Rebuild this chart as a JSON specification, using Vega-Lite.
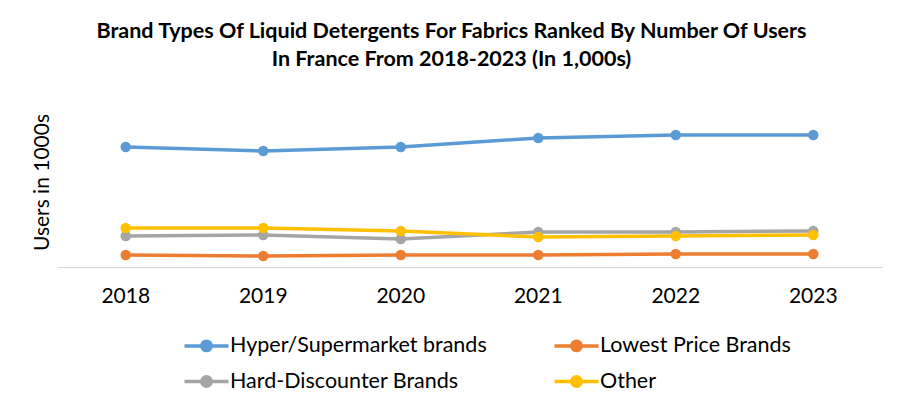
{
  "$schema": "https://vega.github.io/schema/vega-lite/v6.json",
  "width": 825,
  "height": 170,
  "autosize": "none",
  "padding": {"left": 57, "top": 97, "right": 21, "bottom": 146},
  "background": "white",
  "title": {
    "text": ["Brand Types Of Liquid Detergents For Fabrics Ranked By Number Of Users", "In France From 2018-2023 (In 1,000s)"],
    "font": "Lato",
    "fontSize": 21.5,
    "fontWeight": "bold",
    "color": "#000000",
    "lineHeight": 28,
    "anchor": "middle",
    "dx": -18,
    "offset": 27
  },
  "data": {
    "values": [
      {"year": "2018", "series": "Hyper/Supermarket brands", "users": 12000},
      {"year": "2019", "series": "Hyper/Supermarket brands", "users": 11600},
      {"year": "2020", "series": "Hyper/Supermarket brands", "users": 12000},
      {"year": "2021", "series": "Hyper/Supermarket brands", "users": 12900},
      {"year": "2022", "series": "Hyper/Supermarket brands", "users": 13200},
      {"year": "2023", "series": "Hyper/Supermarket brands", "users": 13200},
      {"year": "2018", "series": "Lowest Price Brands", "users": 1200},
      {"year": "2019", "series": "Lowest Price Brands", "users": 1100},
      {"year": "2020", "series": "Lowest Price Brands", "users": 1200},
      {"year": "2021", "series": "Lowest Price Brands", "users": 1200},
      {"year": "2022", "series": "Lowest Price Brands", "users": 1300},
      {"year": "2023", "series": "Lowest Price Brands", "users": 1300},
      {"year": "2018", "series": "Hard-Discounter Brands", "users": 3100},
      {"year": "2019", "series": "Hard-Discounter Brands", "users": 3200},
      {"year": "2020", "series": "Hard-Discounter Brands", "users": 2800},
      {"year": "2021", "series": "Hard-Discounter Brands", "users": 3500},
      {"year": "2022", "series": "Hard-Discounter Brands", "users": 3500},
      {"year": "2023", "series": "Hard-Discounter Brands", "users": 3600},
      {"year": "2018", "series": "Other", "users": 3900},
      {"year": "2019", "series": "Other", "users": 3900},
      {"year": "2020", "series": "Other", "users": 3600},
      {"year": "2021", "series": "Other", "users": 3000},
      {"year": "2022", "series": "Other", "users": 3100},
      {"year": "2023", "series": "Other", "users": 3200}
    ]
  },
  "mark": {"type": "line", "strokeWidth": 3.5, "point": {"filled": true, "size": 110}},
  "encoding": {
    "x": {
      "field": "year",
      "type": "ordinal",
      "scale": {"type": "band", "paddingInner": 0, "paddingOuter": 0},
      "axis": {
        "title": null,
        "ticks": false,
        "grid": false,
        "domainColor": "#d9d9d9",
        "domainWidth": 1,
        "labelAngle": 0,
        "labelFont": "Lato",
        "labelFontSize": 21,
        "labelColor": "#000000",
        "labelPadding": 18
      }
    },
    "y": {
      "field": "users",
      "type": "quantitative",
      "scale": {"domain": [0, 17000], "nice": false},
      "axis": {
        "title": "Users in 1000s",
        "titleFont": "Lato",
        "titleFontSize": 21,
        "titleFontWeight": "normal",
        "titleColor": "#000000",
        "titlePadding": 5,
        "labels": false,
        "ticks": false,
        "domain": false,
        "grid": false
      }
    },
    "color": {
      "field": "series",
      "type": "nominal",
      "sort": ["Hyper/Supermarket brands", "Lowest Price Brands", "Hard-Discounter Brands", "Other"],
      "scale": {
        "domain": ["Hyper/Supermarket brands", "Lowest Price Brands", "Hard-Discounter Brands", "Other"],
        "range": ["#5B9BD5", "#ED7D31", "#A5A5A5", "#FFC000"]
      },
      "legend": {
        "title": null,
        "orient": "none",
        "legendX": 130,
        "legendY": 229,
        "direction": "horizontal",
        "columns": 2,
        "gridAlign": "all",
        "columnPadding": 60,
        "rowPadding": 4,
        "symbolType": "M-1.257,0L1.257,0M0.27,0A0.27,0.27,0,1,1,-0.27,0A0.27,0.27,0,1,1,0.27,0Z",
        "symbolSize": 1225,
        "symbolStrokeWidth": 3.5,
        "labelFont": "Lato",
        "labelFontSize": 21.5,
        "labelColor": "#000000",
        "labelOffset": 4,
        "labelLimit": 400
      }
    }
  },
  "config": {"view": {"stroke": null}}
}
